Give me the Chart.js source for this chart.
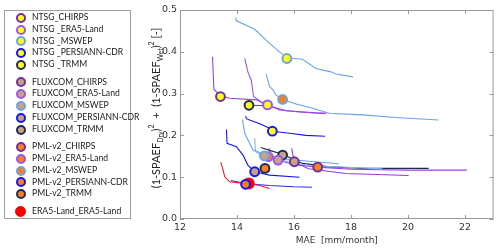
<!DOCTYPE html>
<html>
<head>
<meta charset="utf-8">
<script src="https://cdn.jsdelivr.net/npm/chart.js@4.4.1/dist/chart.umd.min.js"></script>
<style>
  body { margin: 0; background: #fff; }
  #wrap { position: relative; width: 500px; height: 250px; }
  #legend {
    position: absolute; left: 4px; top: 10px; width: 127px; height: 209px;
    border: 1px solid #a0a0a0; box-sizing: border-box; padding-top: 1px;
    font: 8.6px Lato, "Liberation Sans", sans-serif; color: #1a1a1a;
  }
  .row { height: 11.8px; position: relative; white-space: nowrap; }
  .gap { height: 5.6px; }
  .dot {
    position: absolute; left: 10.5px; top: 0.9px; width: 6px; height: 6px;
    border-radius: 50%; border: 2.2px solid #000;
  }
  .lab { position: absolute; left: 27px; top: 0; line-height: 11.8px; }
</style>
</head>
<body>
<div id="wrap">
  <canvas id="chart" width="500" height="250"></canvas>
  <div id="legend"></div>
</div>
<script>
// tick labels
const maeTicks = [12, 14, 16, 18, 20, 22];
const objTicks = [0, 0.1, 0.2, 0.3, 0.4, 0.5];

// colours per precipitation product (edge / line) and per ET model (fill)
const forcingColors = {
  CHIRPS: "#6f2fa8",
  "ERA5-Land": "#9a55f2",
  MSWEP: "#6aa2ec",
  "PERSIANN-CDR": "#1414f5",
  TRMM: "#1f2b55",
};
const modelFill = { NTSG: "#ffff14", FLUXCOM: "#c8a37f", "PML-v2": "#f7801e" };

// pareto fronts (MAE, objective)
const ntsgMswepX = [13.95, 13.98, 14.62, 15.14, 15.75, 16.3, 16.77, 17.29, 17.47, 18.07];
const ntsgMswepY = [0.482, 0.474, 0.454, 0.42, 0.385, 0.382, 0.36, 0.352, 0.347, 0.34];
const ntsgChirpsX = [13.14, 13.19, 13.42, 13.74, 14.67, 15.14, 15.72, 16.77, 17.12];
const ntsgChirpsY = [0.388, 0.31, 0.295, 0.289, 0.285, 0.27, 0.259, 0.254, 0.253];
const ntsgEraX = [14.27, 14.38, 14.5, 14.58, 14.91, 15.07, 15.49, 16.2, 17.12];
const ntsgEraY = [0.384, 0.352, 0.332, 0.293, 0.277, 0.273, 0.261, 0.256, 0.252];
const pmlMswepX = [15.02, 15.14, 15.26, 15.36, 15.6, 16.07, 16.65, 17.23, 18.4, 19.56, 21.07];
const pmlMswepY = [0.347, 0.317, 0.309, 0.297, 0.286, 0.275, 0.265, 0.253, 0.249, 0.243, 0.237];
const ntsgTrmmX = [14.42, 15.1];
const ntsgTrmmY = [0.272, 0.271];
const ntsgPersX = [14.3, 14.33, 14.44, 14.8, 15.14, 15.24, 15.84, 16.42, 17.09];
const ntsgPersY = [0.246, 0.24, 0.237, 0.228, 0.217, 0.21, 0.205, 0.2, 0.198];
const fluxPersX = [13.63, 13.65, 13.98, 14.21, 14.38, 14.62, 15.14, 16.19];
const fluxPersY = [0.214, 0.181, 0.173, 0.153, 0.129, 0.113, 0.105, 0.1];
const fluxMswepX = [14.19, 14.27, 14.56, 14.96, 15.5, 16.5, 17.58];
const fluxMswepY = [0.238, 0.205, 0.165, 0.155, 0.145, 0.138, 0.132];
const pmlEraX = [14.62, 14.65, 14.8, 15.1, 15.6, 16.5, 19.1];
const pmlEraY = [0.193, 0.161, 0.155, 0.149, 0.14, 0.128, 0.12];
const fluxTrmmX = [14.83, 15.2, 15.6, 16.3, 17.23, 18.4, 20.72];
const fluxTrmmY = [0.171, 0.163, 0.155, 0.133, 0.125, 0.121, 0.121];
const fluxEraX = [15.12, 15.2, 15.44, 16.0, 16.83, 18.0, 20.0, 22.06];
const fluxEraY = [0.169, 0.15, 0.141, 0.13, 0.124, 0.119, 0.117, 0.117];
const fluxChirpsX = [15.92, 15.95, 16.01, 16.5, 17.81, 20.02];
const fluxChirpsY = [0.169, 0.157, 0.137, 0.12, 0.109, 0.104];
const eraLandX = [13.43, 13.5, 13.57, 13.74, 14.0, 14.41, 14.8, 15.14];
const eraLandY = [0.136, 0.12, 0.101, 0.089, 0.087, 0.085, 0.08, 0.073];
const pmlPersX = [13.78, 14.3, 14.8, 15.14, 16.0, 16.63];
const pmlPersY = [0.092, 0.085, 0.082, 0.08, 0.077, 0.076];

// best points (legend order)
const pointNames = [
  "NTSG_CHIRPS", "NTSG _ERA5-Land", "NTSG _MSWEP", "NTSG _PERSIANN-CDR", "NTSG _TRMM",
  "FLUXCOM_CHIRPS", "FLUXCOM_ERA5-Land", "FLUXCOM_MSWEP", "FLUXCOM_PERSIANN-CDR", "FLUXCOM_TRMM",
  "PML-v2_CHIRPS", "PML-v2_ERA5-Land", "PML-v2_MSWEP", "PML-v2_PERSIANN-CDR", "PML-v2_TRMM",
];
const pointModels = ["NTSG", "NTSG", "NTSG", "NTSG", "NTSG",
  "FLUXCOM", "FLUXCOM", "FLUXCOM", "FLUXCOM", "FLUXCOM",
  "PML-v2", "PML-v2", "PML-v2", "PML-v2", "PML-v2"];
const pointForcings = ["CHIRPS", "ERA5-Land", "MSWEP", "PERSIANN-CDR", "TRMM",
  "CHIRPS", "ERA5-Land", "MSWEP", "PERSIANN-CDR", "TRMM",
  "CHIRPS", "ERA5-Land", "MSWEP", "PERSIANN-CDR", "TRMM"];
const pointMae = [13.42, 15.07, 15.75, 15.24, 14.42,
  16.01, 15.44, 14.96, 14.62, 15.6,
  16.83, 15.1, 15.6, 14.3, 14.98];
const pointObj = [0.293, 0.273, 0.384, 0.21, 0.272,
  0.137, 0.141, 0.151, 0.113, 0.153,
  0.124, 0.149, 0.286, 0.083, 0.121];
const eraBestMae = [14.41];
const eraBestObj = [0.085];

function pts(xs, ys) {
  return xs.map((x, i) => ({ x: x, y: ys[i] }));
}

const fronts = [
  [ntsgMswepX, ntsgMswepY, forcingColors.MSWEP],
  [ntsgChirpsX, ntsgChirpsY, "#9446e6"],
  [ntsgEraX, ntsgEraY, forcingColors["ERA5-Land"]],
  [pmlMswepX, pmlMswepY, forcingColors.MSWEP],
  [ntsgTrmmX, ntsgTrmmY, "#4a4f80"],
  [ntsgPersX, ntsgPersY, forcingColors["PERSIANN-CDR"]],
  [fluxPersX, fluxPersY, forcingColors["PERSIANN-CDR"]],
  [fluxMswepX, fluxMswepY, forcingColors.MSWEP],
  [pmlEraX, pmlEraY, "#8ab4ee"],
  [fluxTrmmX, fluxTrmmY, forcingColors.TRMM],
  [fluxEraX, fluxEraY, "#9a3ff0"],
  [fluxChirpsX, fluxChirpsY, "#8a3fd6"],
  [eraLandX, eraLandY, "#ff1a1a"],
  [pmlPersX, pmlPersY, "#2a2af0"],
];

const datasets = [];
// red ERA5-Land point sits behind the others
datasets.push({
  type: "scatter", data: pts(eraBestMae, eraBestObj), order: 1,
  pointRadius: 6, backgroundColor: "#ff0000", borderWidth: 0,
});
pointNames.forEach((name, i) => {
  datasets.push({
    type: "scatter", data: pts([pointMae[i]], [pointObj[i]]), order: 0,
    pointRadius: 4.4, borderWidth: 2,
    backgroundColor: modelFill[pointModels[i]],
    borderColor: forcingColors[pointForcings[i]],
  });
});
fronts.forEach((f) => {
  datasets.push({
    type: "line", data: pts(f[0], f[1]), order: 5,
    borderColor: f[2], borderWidth: 1.1, pointRadius: 0, tension: 0, fill: false,
  });
});

// frame with inward ticks on all four sides + y title with sub/superscripts
const framePlugin = {
  id: "frame",
  afterDatasetsDraw(chart) {
    const { ctx, chartArea: a, scales } = chart;
    ctx.save();
    ctx.strokeStyle = "#9a9a9a";
    ctx.lineWidth = 1;
    ctx.strokeRect(a.left + 0.5, a.top + 0.5, a.right - a.left - 1, a.bottom - a.top - 1);
    ctx.beginPath();
    maeTicks.forEach((v) => {
      const px = Math.round(scales.x.getPixelForValue(v)) + 0.5;
      ctx.moveTo(px, a.bottom); ctx.lineTo(px, a.bottom - 4);
      ctx.moveTo(px, a.top); ctx.lineTo(px, a.top + 4);
    });
    objTicks.forEach((v) => {
      const py = Math.round(scales.y.getPixelForValue(v)) + 0.5;
      ctx.moveTo(a.left, py); ctx.lineTo(a.left + 4, py);
      ctx.moveTo(a.right, py); ctx.lineTo(a.right - 4, py);
    });
    ctx.stroke();
    ctx.restore();
  },
  afterDraw(chart) {
    const ctx = chart.ctx;
    const big = "11px Lato, 'Liberation Sans', sans-serif";
    const small = "7px Lato, 'Liberation Sans', sans-serif";
    const parts = [
      ["(1-SPAEF", big, 0], ["Dry", small, 2.5], [")", big, 0], ["2", small, -6],
      ["  +  (1-SPAEF", big, 0], ["Wet", small, 2.5], [")", big, 0], ["2", small, -6],
      [" [-]", big, 0],
    ];
    ctx.save();
    let total = 0;
    parts.forEach((p) => { ctx.font = p[1]; total += ctx.measureText(p[0]).width; });
    ctx.translate(160, 108);
    ctx.rotate(-Math.PI / 2);
    ctx.fillStyle = "#222";
    ctx.textBaseline = "alphabetic";
    let x = -total / 2;
    parts.forEach((p) => {
      ctx.font = p[1];
      ctx.fillText(p[0], x, p[2]);
      x += ctx.measureText(p[0]).width;
    });
    ctx.restore();
  },
};

new Chart(document.getElementById("chart"), {
  data: { datasets: datasets },
  plugins: [framePlugin],
  options: {
    responsive: false,
    animation: false,
    devicePixelRatio: 1,
    layout: { padding: { left: 133, right: 5, top: 10, bottom: 0 } },
    plugins: { legend: { display: false }, tooltip: { enabled: false } },
    scales: {
      x: {
        type: "linear", min: 12, max: 23,
        afterBuildTicks: (s) => { s.ticks = maeTicks.map((v) => ({ value: v })); },
        afterFit: (s) => { s.height = 31; },
        grid: { display: false, drawTicks: false }, border: { display: false },
        ticks: { color: "#333", padding: 3, maxRotation: 0,
          font: { family: "DejaVu Sans", size: 9.5 } },
        title: { display: true, text: "MAE  [mm/month]", color: "#333",
          padding: { top: 0, bottom: 4 },
          font: { family: "DejaVu Sans", size: 9 } },
      },
      y: {
        type: "linear", min: 0, max: 0.5,
        afterBuildTicks: (s) => { s.ticks = objTicks.map((v) => ({ value: v })); },
        afterFit: (s) => { s.width = 47; },
        grid: { display: false, drawTicks: false }, border: { display: false },
        ticks: { color: "#333", padding: 3,
          font: { family: "DejaVu Sans", size: 9.5 },
          callback: (v) => Number(v).toFixed(1) },
      },
    },
  },
});

// legend box
const legend = document.getElementById("legend");
function addGap() {
  const g = document.createElement("div");
  g.className = "gap";
  legend.appendChild(g);
}
pointNames.forEach((name, i) => {
  if (i === 5 || i === 10) addGap();
  const row = document.createElement("div");
  row.className = "row";
  row.innerHTML = `<span class="dot" style="background:${modelFill[pointModels[i]]};border-color:${forcingColors[pointForcings[i]]}"></span><span class="lab">${name}</span>`;
  legend.appendChild(row);
});
addGap();
const eraRow = document.createElement("div");
eraRow.className = "row";
eraRow.innerHTML = `<span class="dot" style="background:#ff0000;border-color:#ff0000;width:9px;height:9px;border-width:1px;left:10px;top:0px"></span><span class="lab">ERA5-Land_ERA5-Land</span>`;
legend.appendChild(eraRow);
</script>
</body>
</html>
